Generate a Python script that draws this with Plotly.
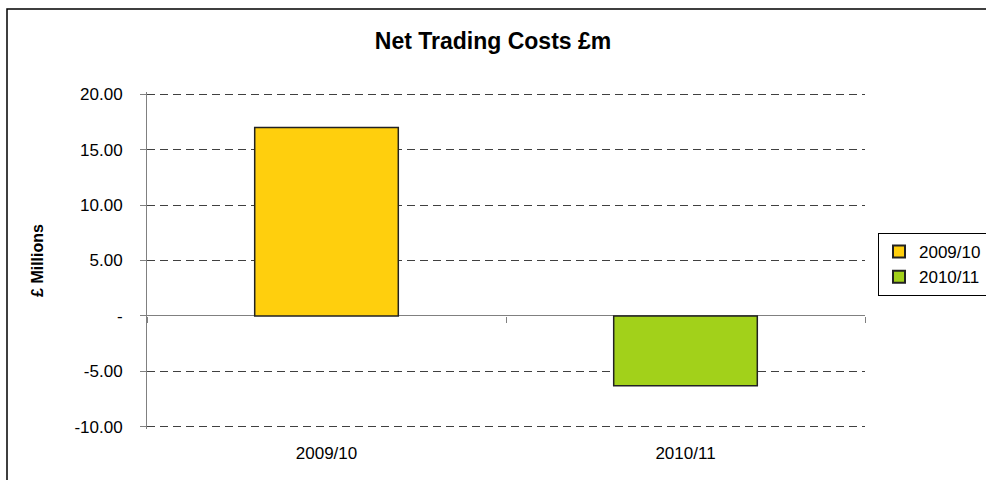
import plotly.graph_objects as go

categories = ["2009/10", "2010/11"]
values = [17.0, -6.3]
bar_colors = ["#FFCF0D", "#A2D11A"]
y_range = [-10.2, 20.2]
y_ticks = [-10, -5, 0, 5, 10, 15, 20]
y_tick_text = ["-10.00", "-5.00", "-", "5.00", "10.00", "15.00", "20.00"]

FONT = "Liberation Sans, Arial, sans-serif"

fig = go.Figure()
for cat, val, col in zip(categories, values, bar_colors):
    fig.add_trace(go.Bar(
        x=[cat], y=[val], name=cat, width=0.4,
        marker=dict(color=col, line=dict(color="#222222", width=1.5)),
    ))

# invisible helper trace so the boundary-tick axis at y=0 is drawn
fig.add_trace(go.Scatter(
    x=categories, y=values, xaxis="x2", mode="markers",
    marker=dict(opacity=0), showlegend=False, hoverinfo="skip",
))

zero_pos = (0 - y_range[0]) / (y_range[1] - y_range[0])

fig.update_layout(
    width=986, height=480,
    margin=dict(l=147, r=121, t=92, b=51),
    paper_bgcolor="white", plot_bgcolor="white",
    barmode="overlay",
    font=dict(family=FONT, size=17, color="#000000"),
    title=dict(text="<b>Net Trading Costs £m</b>", x=0.5, xanchor="center",
               y=1 - 41 / 480, yanchor="middle",
               font=dict(family=FONT, size=23, color="#000000")),
    xaxis=dict(
        type="category", categoryorder="array", categoryarray=categories,
        range=[-0.5, 1.5], showline=False, showgrid=False, ticks="",
        zeroline=False, tickfont=dict(size=17), ticklabelstandoff=12,
    ),
    xaxis2=dict(
        type="category", categoryorder="array", categoryarray=categories,
        range=[-0.5, 1.5], overlaying="x", anchor="free", position=zero_pos,
        side="bottom", showticklabels=False, showgrid=False, showline=False,
        ticks="outside", tickson="boundaries", ticklen=6, tickcolor="#808080",
        tickwidth=1, zeroline=False,
    ),
    yaxis=dict(
        range=y_range, tickvals=y_ticks, ticktext=y_tick_text,
        showline=True, linecolor="#808080", linewidth=1,
        ticks="outside", ticklen=6, tickcolor="#808080",
        showgrid=True, gridcolor="#404040", gridwidth=1, griddash="8px,5px",
        zeroline=True, zerolinecolor="#808080", zerolinewidth=1,
        tickfont=dict(size=17), ticklabelstandoff=14,
        title=dict(text="<b>£ Millions</b>", font=dict(size=16), standoff=26),
    ),
    legend=dict(
        xref="container", yref="container",
        x=878 / 986, xanchor="left", y=1 - 233 / 480, yanchor="top",
        bordercolor="#000000", borderwidth=1, bgcolor="white",
        font=dict(size=17), itemsizing="constant", tracegroupgap=0,
    ),
    shapes=[dict(
        type="rect", xref="paper", yref="paper",
        x0=-140 / 718, x1=(986 + 40 - 147) / 718,
        y0=-70 / 337, y1=(429 - 9) / 337,
        line=dict(color="#000000", width=1.5), fillcolor="rgba(0,0,0,0)",
        layer="below",
    )],
)

fig.write_html("out.html")
